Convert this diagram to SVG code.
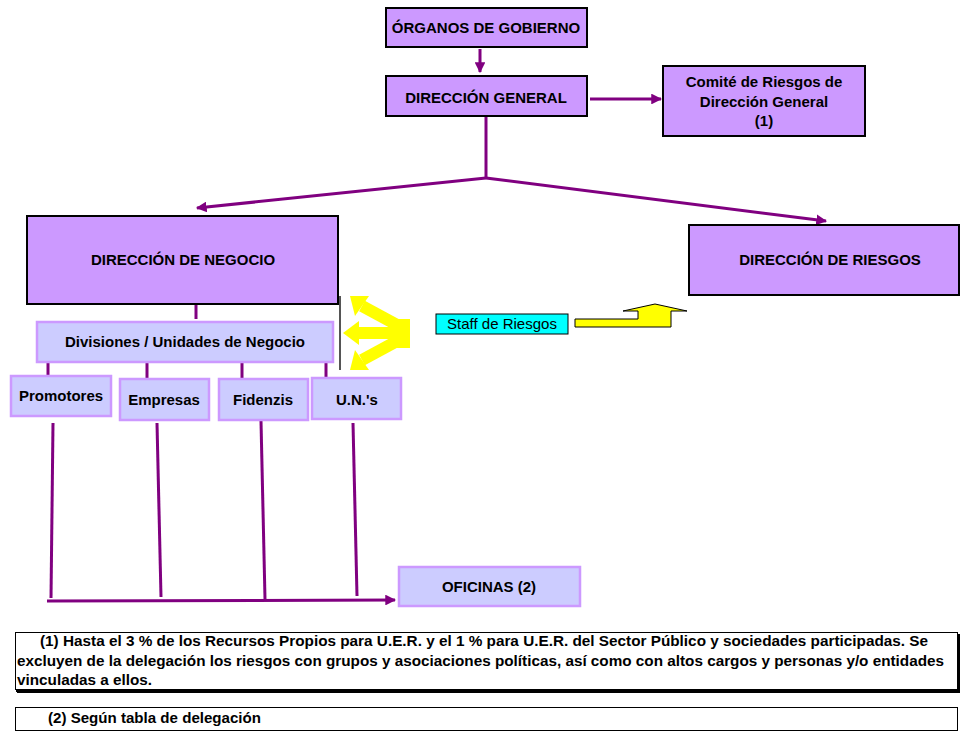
<svg xmlns="http://www.w3.org/2000/svg" width="961" height="731" viewBox="0 0 961 731">
<defs>
<style>
.main{fill:#cc99ff;stroke:#000;stroke-width:2}
.sub{fill:#ccccff;stroke:#cc99ff;stroke-width:2.5}
.t{font-family:"Liberation Sans",Arial,sans-serif;font-weight:bold;font-size:15px;fill:#000;text-anchor:middle}
.conn{stroke:#800080;stroke-width:3;fill:none}
.foot{font-family:"Liberation Sans Narrow","Liberation Sans",Arial,sans-serif;font-weight:bold;font-size:15.5px;fill:#000}
.fbox{fill:#fff;stroke:#000;stroke-width:1}
.yel{fill:#ffff00}
</style>
<marker id="ah" viewBox="0 0 10 10" refX="9" refY="5" markerWidth="3.6" markerHeight="3.6" orient="auto" markerUnits="strokeWidth">
<path d="M0,0 L10,5 L0,10 Z" fill="#800080"/>
</marker>
</defs>
<rect width="961" height="731" fill="#fff"/>

<g id="connectors">
<line class="conn" x1="480" y1="49" x2="480" y2="72" marker-end="url(#ah)"/>
<line class="conn" x1="590" y1="99" x2="661" y2="99" marker-end="url(#ah)"/>
<polyline class="conn" points="486,116 486,178"/>
<line class="conn" x1="486" y1="178" x2="197" y2="208" marker-end="url(#ah)"/>
<line class="conn" x1="486" y1="178" x2="826" y2="221" marker-end="url(#ah)"/>
<line class="conn" x1="196" y1="305" x2="196" y2="319"/>
<line class="conn" x1="48" y1="363" x2="48" y2="376"/>
<line class="conn" x1="147" y1="363" x2="147" y2="378"/>
<line class="conn" x1="242" y1="363" x2="242" y2="378"/>
<line class="conn" x1="326" y1="363" x2="326" y2="377"/>
<line class="conn" x1="53" y1="423" x2="51" y2="598"/>
<line class="conn" x1="157" y1="423" x2="161" y2="597"/>
<line class="conn" x1="261" y1="421" x2="265" y2="599"/>
<line class="conn" x1="353" y1="423" x2="357" y2="596"/>
<line class="conn" x1="47" y1="601" x2="395" y2="600" marker-end="url(#ah)"/>
<line x1="340" y1="296" x2="340" y2="370" stroke="#555" stroke-width="2"/>
</g>

<g id="yellow-arrow-left">
<rect class="yel" x="396" y="319" width="14" height="29"/>
<rect class="yel" x="356" y="327" width="43" height="12"/>
<polygon class="yel" points="343,333 359,321 359,345"/>
<line x1="362" y1="306" x2="399" y2="326" stroke="#ffff00" stroke-width="12"/>
<polygon class="yel" points="350,296 369,296 355,316"/>
<line x1="362" y1="360" x2="399" y2="340" stroke="#ffff00" stroke-width="12"/>
<polygon class="yel" points="350,370 369,370 355,350"/>
</g>

<g id="yellow-arrow-right">
<polygon class="yel" stroke="#000" stroke-width="1" points="575,319 638,319 638,311 623,311 655,304 687,311 671,311 671,327 575,327"/>
</g>

<g id="organos">
<rect class="main" x="386" y="8" width="201" height="39"/>
<text class="t" x="486" y="33">ÓRGANOS DE GOBIERNO</text>
</g>
<g id="direccion-general">
<rect class="main" x="386" y="76" width="201" height="40"/>
<text class="t" x="486" y="103">DIRECCIÓN GENERAL</text>
</g>
<g id="comite">
<rect class="main" x="663" y="66" width="202" height="70"/>
<text class="t" x="764" y="87">Comité de Riesgos de</text>
<text class="t" x="764" y="107">Dirección General</text>
<text class="t" x="764" y="126">(1)</text>
</g>
<g id="direccion-negocio">
<rect class="main" x="27" y="216" width="311" height="88"/>
<text class="t" x="183" y="265">DIRECCIÓN DE NEGOCIO</text>
</g>
<g id="direccion-riesgos">
<rect class="main" x="689" y="225" width="270" height="70"/>
<text class="t" x="830" y="265">DIRECCIÓN DE RIESGOS</text>
</g>
<g id="divisiones">
<rect class="sub" x="37" y="322" width="296" height="40"/>
<text class="t" x="185" y="347">Divisiones / Unidades de Negocio</text>
</g>
<g id="promotores">
<rect class="sub" x="11" y="376" width="100" height="40"/>
<text class="t" x="61" y="401">Promotores</text>
</g>
<g id="empresas">
<rect class="sub" x="120" y="379" width="89" height="41"/>
<text class="t" x="164" y="405">Empresas</text>
</g>
<g id="fidenzis">
<rect class="sub" x="219" y="379" width="89" height="41"/>
<text class="t" x="263" y="405">Fidenzis</text>
</g>
<g id="uns">
<rect class="sub" x="312" y="378" width="89" height="41"/>
<text class="t" x="357" y="405">U.N.'s</text>
</g>
<g id="oficinas">
<rect class="sub" x="399" y="567" width="181" height="39"/>
<text class="t" x="489" y="592">OFICINAS (2)</text>
</g>
<g id="staff">
<rect x="436" y="314" width="132" height="20" fill="#00ffff" stroke="#000" stroke-width="1"/>
<text x="502" y="329" font-family="Liberation Sans,Arial,sans-serif" font-size="15" text-anchor="middle">Staff de Riesgos</text>
</g>

<g id="nota1">
<rect x="17" y="692" width="943" height="1" fill="#000"/>
<rect x="16" y="689" width="943" height="3" fill="#000"/>
<rect x="957" y="634" width="3" height="58" fill="#000"/>
<rect class="fbox" x="15.5" y="632.5" width="942" height="57"/>
<text class="foot" x="40" y="646" textLength="888" lengthAdjust="spacingAndGlyphs">(1) Hasta el 3 % de los Recursos Propios para U.E.R.  y el 1 % para U.E.R. del Sector Público y sociedades participadas. Se</text>
<text class="foot" x="17" y="666" textLength="927" lengthAdjust="spacingAndGlyphs">excluyen de la delegación los riesgos con grupos y asociaciones políticas, así como con altos cargos y personas y/o entidades</text>
<text class="foot" x="17" y="685" textLength="135" lengthAdjust="spacingAndGlyphs">vinculadas a ellos.</text>
</g>
<g id="nota2">
<rect class="fbox" x="15.5" y="707.5" width="942" height="23"/>
<text class="foot" x="48" y="723" textLength="213" lengthAdjust="spacingAndGlyphs">(2) Según tabla de delegación</text>
</g>
</svg>
